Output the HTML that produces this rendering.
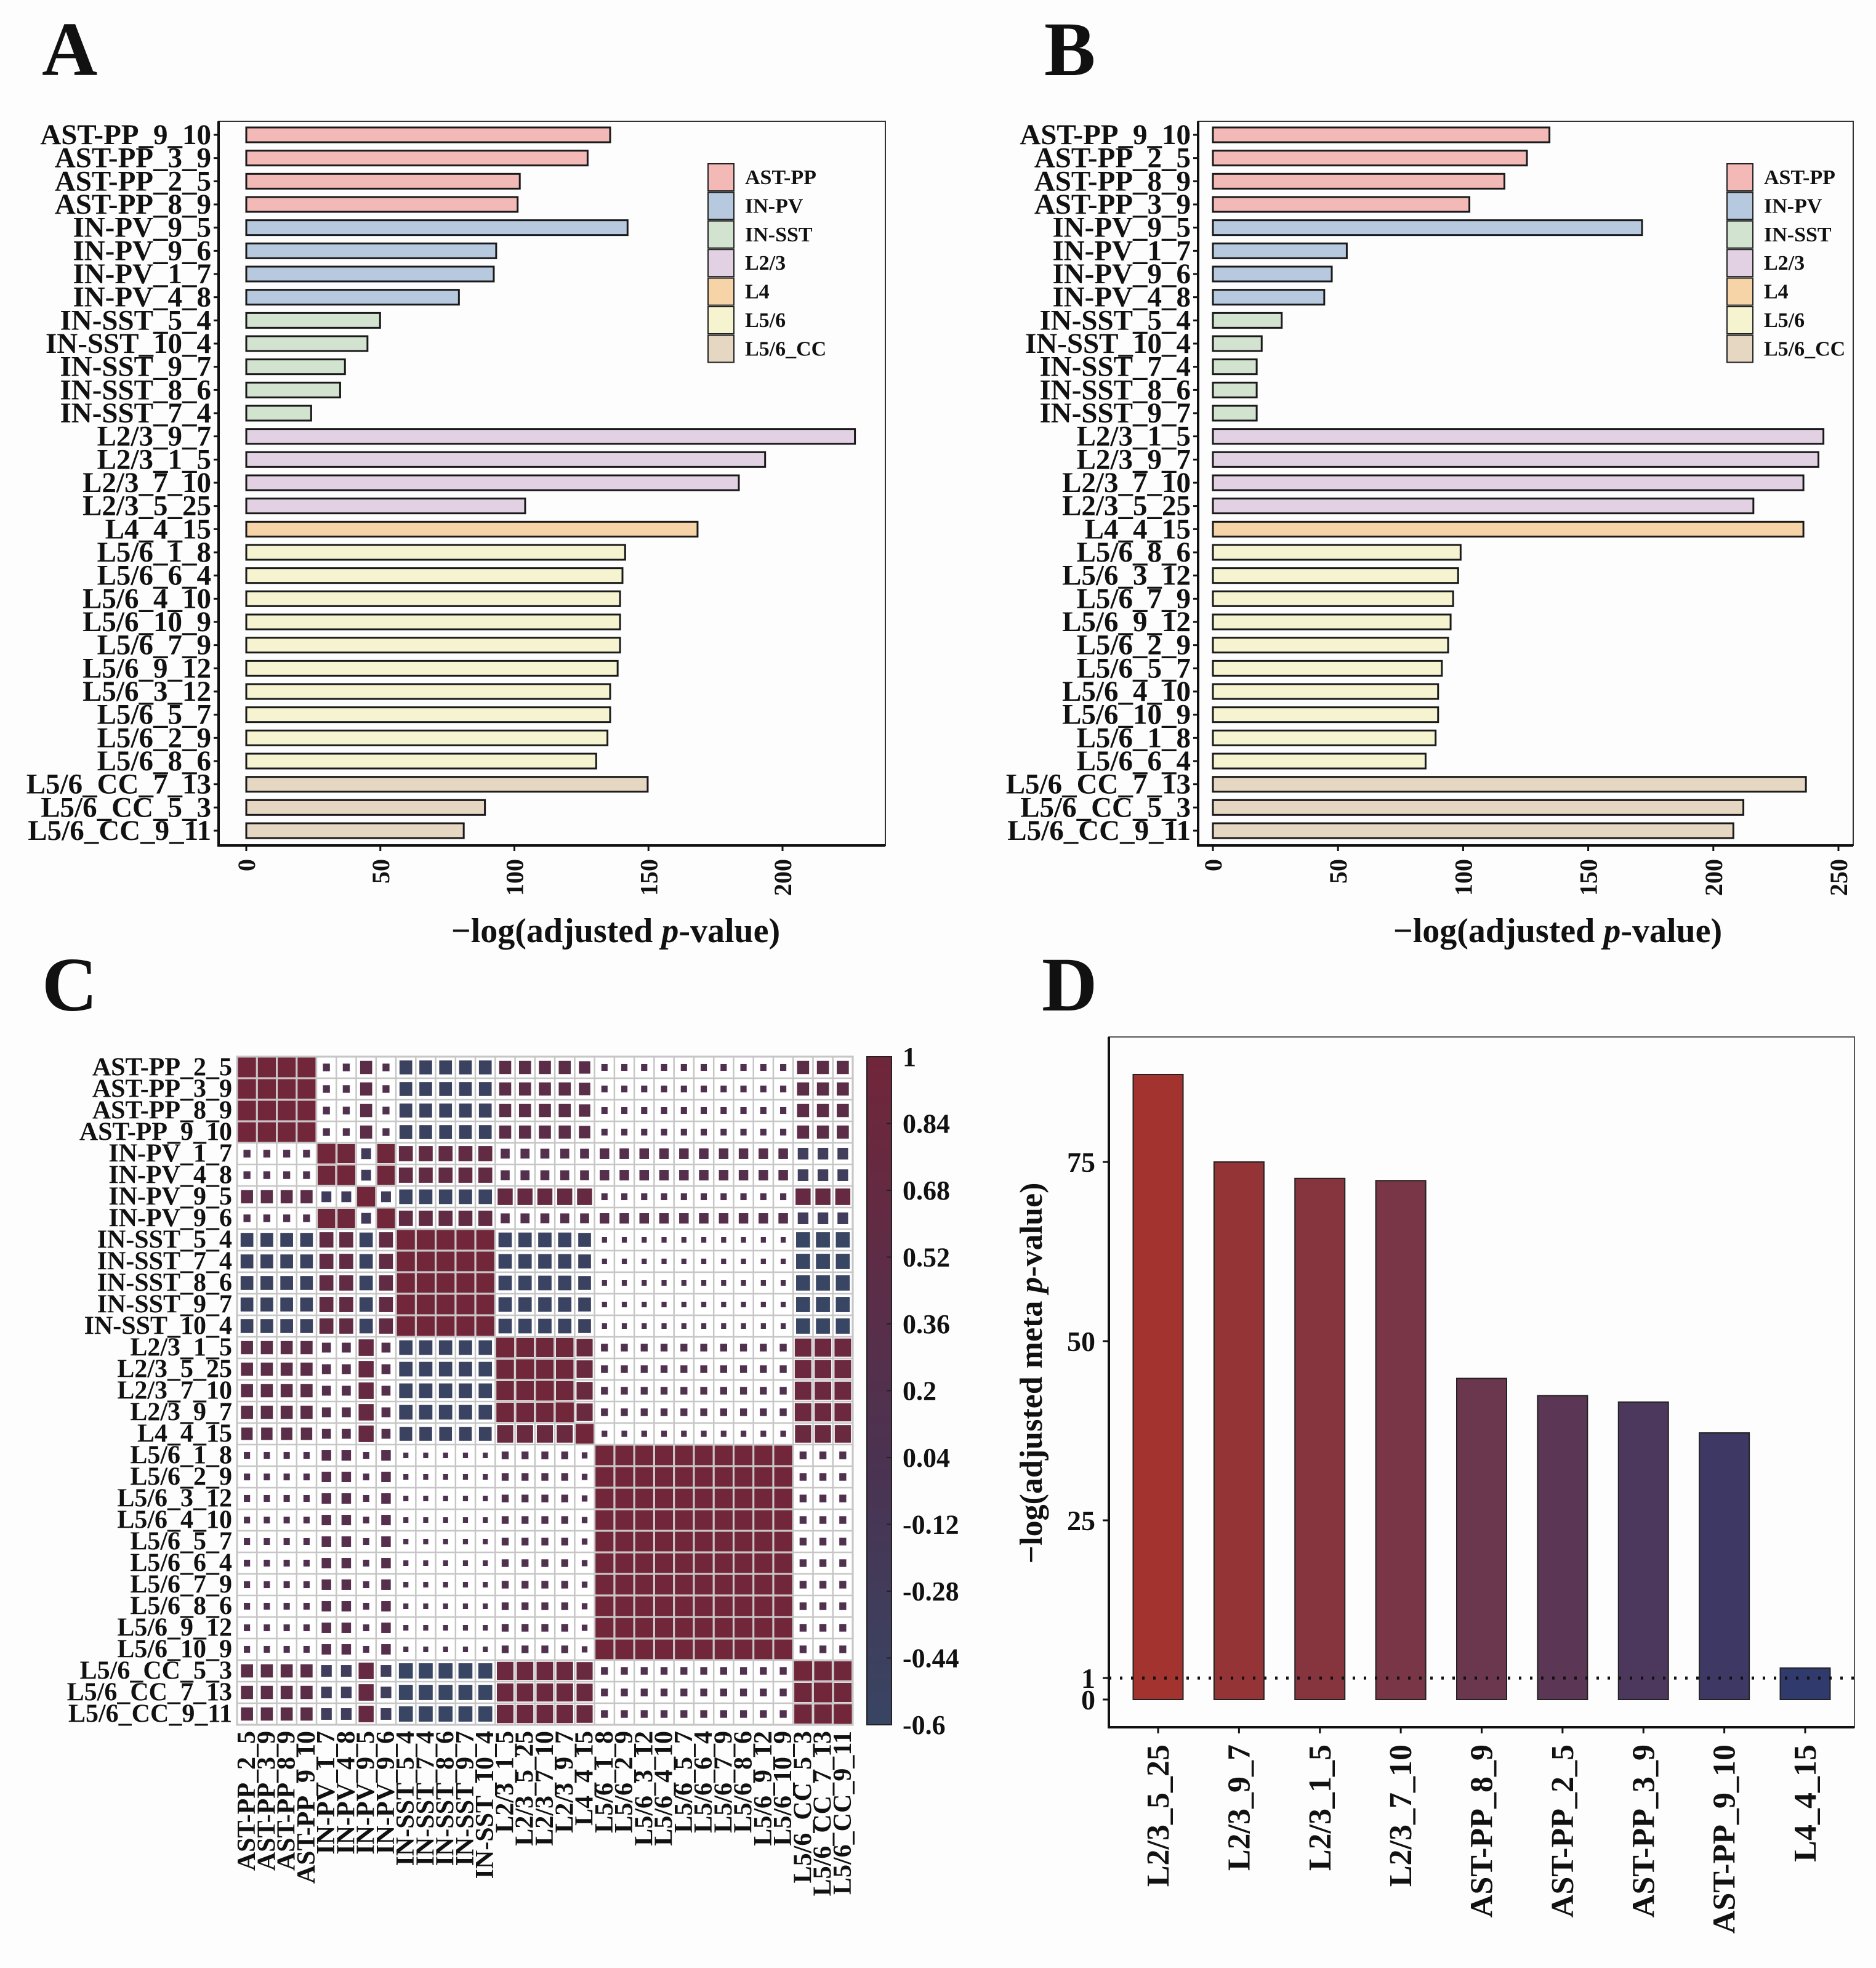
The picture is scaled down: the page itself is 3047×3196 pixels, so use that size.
<!DOCTYPE html>
<html><head><meta charset="utf-8"><style>
html,body{margin:0;padding:0;background:#fff}
svg{display:block}
text{font-family:"Liberation Serif",serif;font-weight:bold;fill:#111}
</style></head><body>
<svg id="fig" xmlns="http://www.w3.org/2000/svg" width="3047" height="3196" viewBox="0 0 3047 3196">
<rect x="0" y="0" width="3047" height="3196" fill="#fdfdfd"/>
<text x="68" y="122" font-size="125">A</text>
<text x="1696" y="122" font-size="125">B</text>
<text x="68" y="1641" font-size="125">C</text>
<text x="1692" y="1641" font-size="125">D</text>
<g id="pa"></g>
<g id="pb"></g>
<g id="pc"></g>
<g id="pd"></g>
</svg>
<script>
// ---- Panel A data ----
const aLabels = ["AST-PP_9_10","AST-PP_3_9","AST-PP_2_5","AST-PP_8_9","IN-PV_9_5","IN-PV_9_6","IN-PV_1_7","IN-PV_4_8","IN-SST_5_4","IN-SST_10_4","IN-SST_9_7","IN-SST_8_6","IN-SST_7_4","L2/3_9_7","L2/3_1_5","L2/3_7_10","L2/3_5_25","L4_4_15","L5/6_1_8","L5/6_6_4","L5/6_4_10","L5/6_10_9","L5/6_7_9","L5/6_9_12","L5/6_3_12","L5/6_5_7","L5/6_2_9","L5/6_8_6","L5/6_CC_7_13","L5/6_CC_5_3","L5/6_CC_9_11"];
const aValues = [135.7,127.3,102,101.2,142.2,93.2,92.3,79.3,49.9,45.2,36.8,35,24.2,227,193.5,183.7,104,168.3,141.3,140.3,139.4,139.4,139.4,138.5,135.7,135.7,134.7,130.5,149.7,89,81.1];
const aGroups = ["AST-PP","AST-PP","AST-PP","AST-PP","IN-PV","IN-PV","IN-PV","IN-PV","IN-SST","IN-SST","IN-SST","IN-SST","IN-SST","L2/3","L2/3","L2/3","L2/3","L4","L5/6","L5/6","L5/6","L5/6","L5/6","L5/6","L5/6","L5/6","L5/6","L5/6","L5/6_CC","L5/6_CC","L5/6_CC"];
const aTicks = [0,50,100,150,200];
// ---- Panel B data ----
const bLabels = ["AST-PP_9_10","AST-PP_2_5","AST-PP_8_9","AST-PP_3_9","IN-PV_9_5","IN-PV_1_7","IN-PV_9_6","IN-PV_4_8","IN-SST_5_4","IN-SST_10_4","IN-SST_7_4","IN-SST_8_6","IN-SST_9_7","L2/3_1_5","L2/3_9_7","L2/3_7_10","L2/3_5_25","L4_4_15","L5/6_8_6","L5/6_3_12","L5/6_7_9","L5/6_9_12","L5/6_2_9","L5/6_5_7","L5/6_4_10","L5/6_10_9","L5/6_1_8","L5/6_6_4","L5/6_CC_7_13","L5/6_CC_5_3","L5/6_CC_9_11"];
const bValues = [134.5,125.5,116.5,102.5,171.5,53.5,47.5,44.5,27.5,19.5,17.5,17.5,17.5,244,242,236,216,236,99,98,96,95,94,91.5,90,90,89,85,237,212,208];
const bGroups = aGroups;
const bTicks = [0,50,100,150,200,250];
const legendNames = ["AST-PP","IN-PV","IN-SST","L2/3","L4","L5/6","L5/6_CC"];
const legendColors = ["#f2b9b6","#b7c9de","#d2e4d0","#e1d1e3","#f7d4a7","#f6f4d0","#e6d7c3"];
// ---- Panel C data ----
const cLabels = ["AST-PP_2_5","AST-PP_3_9","AST-PP_8_9","AST-PP_9_10","IN-PV_1_7","IN-PV_4_8","IN-PV_9_5","IN-PV_9_6","IN-SST_5_4","IN-SST_7_4","IN-SST_8_6","IN-SST_9_7","IN-SST_10_4","L2/3_1_5","L2/3_5_25","L2/3_7_10","L2/3_9_7","L4_4_15","L5/6_1_8","L5/6_2_9","L5/6_3_12","L5/6_4_10","L5/6_5_7","L5/6_6_4","L5/6_7_9","L5/6_8_6","L5/6_9_12","L5/6_10_9","L5/6_CC_5_3","L5/6_CC_7_13","L5/6_CC_9_11"];
const cGroupOf = [0,0,0,0,1,1,2,1,3,3,3,3,3,4,4,4,4,5,6,6,6,6,6,6,6,6,6,6,7,7,7];
const cGroupCorr = [
 [1,0.15,0.45,-0.5,0.45,0.4,0.12,0.45],
 [0.15,0.95,-0.3,0.6,0.25,0.25,0.28,-0.35],
 [0.45,-0.3,1,-0.55,0.7,0.7,0.12,0.7],
 [-0.5,0.6,-0.55,1,-0.55,-0.5,0.08,-0.6],
 [0.45,0.25,0.7,-0.55,0.95,0.8,0.15,0.85],
 [0.4,0.25,0.7,-0.5,0.8,1,0.1,0.8],
 [0.12,0.28,0.12,0.08,0.15,0.1,1,0.15],
 [0.45,-0.35,0.7,-0.6,0.85,0.8,0.15,0.95]];
const cbarLabels = ["1","0.84","0.68","0.52","0.36","0.2","0.04","-0.12","-0.28","-0.44","-0.6"];
// ---- Panel D data ----
const dLabels = ["L2/3_5_25","L2/3_9_7","L2/3_1_5","L2/3_7_10","AST-PP_8_9","AST-PP_2_5","AST-PP_3_9","AST-PP_9_10","L4_4_15"];
const dValues = [87.2,75,72.7,72.4,44.8,42.4,41.5,37.2,4.4];
const dTickVals = [0,3,25,50,75];
const dTickLabels = ["0","1","25","50","75"];
const dThreshold = 3;

const NS="http://www.w3.org/2000/svg";
function mk(parent,tag,attrs,txt){const e=document.createElementNS(NS,tag);for(const k in attrs)e.setAttribute(k,attrs[k]);if(txt!==undefined)e.textContent=txt;parent.appendChild(e);return e;}

function hbar(gid,labels,values,groups,ticks,F,x0,xPerUnit,legX,titleX,prefix){
  const g=document.getElementById(gid);
  const fr=mk(g,'rect',{x:F.l,y:F.t,width:F.r-F.l,height:F.b-F.t,fill:'none',stroke:'#333','stroke-width':2});
  
  const ax=mk(g,'path',{d:`M${F.l} ${F.t} V${F.b} H${F.r}`,fill:'none',stroke:'#111','stroke-width':4});
  
  const y0=219,step=(1349-219)/(labels.length-1),bh=24;
  const xs=v=>x0+v*xPerUnit;
  labels.forEach((lab,i)=>{
    const cy=y0+i*step;
    const ci=legendNames.indexOf(groups[i]);
    const r=mk(g,'rect',{x:xs(0),y:cy-bh/2,width:xs(values[i])-xs(0),height:bh,fill:legendColors[ci],stroke:'#1a1a1a','stroke-width':3});
    
    const t=mk(g,'text',{x:F.l-12,y:cy+15,'font-size':47,'text-anchor':'end'},lab);
    
    mk(g,'line',{x1:F.l-8,x2:F.l,y1:cy,y2:cy,stroke:'#111','stroke-width':3});
  });
  ticks.forEach(v=>{
    const x=xs(v);
    mk(g,'line',{x1:x,x2:x,y1:F.b,y2:F.b+9,stroke:'#111','stroke-width':3});
    const t=mk(g,'text',{transform:`translate(${x+14},${F.b+22}) rotate(-90)`,'font-size':40,'text-anchor':'end'},String(v));
    
  });
  const tt=mk(g,'text',{x:titleX,y:1530,'font-size':56,'text-anchor':'middle'});
  
  mk(tt,'tspan',{},'\u2212log(adjusted ');mk(tt,'tspan',{'font-style':'italic'},'p');mk(tt,'tspan',{},'-value)');
  legendNames.forEach((n,i)=>{
    const cy=288+i*46.4;
    const r=mk(g,'rect',{x:legX,y:cy-22,width:42,height:44,fill:legendColors[i],stroke:'#222','stroke-width':2});
    
    const t=mk(g,'text',{x:legX+60,y:cy+11,'font-size':34},n);
    
  });
}
hbar('pa',aLabels,aValues,aGroups,aTicks,{l:355,t:197,r:1438,b:1373},400,4.355,1150,1000,'a');
hbar('pb',bLabels,bValues,bGroups,bTicks,{l:1946,t:197,r:3010,b:1373},1970,4.064,2805,2530,'b');

// ---- Panel C ----
(function(){
  const g=document.getElementById('pc');
  const L=385,T=1716,n=cLabels.length,cw=(1385-385)/n,ch=(2801-1716)/n;
  function lerp(a,b,t){return Math.round(a+(b-a)*t);}
  function col(v){
    const lo=[56,69,99],mid=[74,51,82],hi=[113,38,58];
    let c;if(v<0){const t=Math.min(1,-v/0.6);c=mid.map((m,i)=>lerp(m,lo[i],t));}else{c=mid.map((m,i)=>lerp(m,hi[i],v));}
    return `rgb(${c[0]},${c[1]},${c[2]})`;
  }
  const bg=mk(g,'rect',{x:L,y:T,width:cw*n,height:ch*n,fill:'#fff',stroke:'#bbb','stroke-width':3});
  
  for(let i=0;i<n;i++){
    for(let j=0;j<n;j++){
      const v=(i===j)?1:cGroupCorr[cGroupOf[i]][cGroupOf[j]];
      const s=Math.sqrt(Math.abs(v));
      const w=(cw-3)*s,h=(ch-3)*s;
      const cx=L+(j+0.5)*cw,cy=T+(i+0.5)*ch;
      const r=mk(g,'rect',{x:cx-w/2,y:cy-h/2,width:w,height:h,fill:col(v)});
      
    }
  }
  for(let k=0;k<=n;k++){
    mk(g,'line',{x1:L+k*cw,x2:L+k*cw,y1:T,y2:T+n*ch,stroke:'#c6c6c6','stroke-width':2.5});
    mk(g,'line',{x1:L,x2:L+n*cw,y1:T+k*ch,y2:T+k*ch,stroke:'#c6c6c6','stroke-width':2.5});
  }
  cLabels.forEach((lab,i)=>{
    const t=mk(g,'text',{x:L-8,y:T+(i+0.5)*ch+13,'font-size':42,'text-anchor':'end'},lab);
    
    const t2=mk(g,'text',{transform:`translate(${L+(i+0.5)*cw+13},${T+n*ch+10}) rotate(-90)`,'font-size':42,'text-anchor':'end'},lab);
    
  });
  const defs=mk(g,'defs',{});
  const lg=mk(defs,'linearGradient',{id:'cbg',x1:0,y1:0,x2:0,y2:1});
  mk(lg,'stop',{offset:'0','stop-color':col(1)});
  mk(lg,'stop',{offset:String(1/1.6),'stop-color':col(0)});
  mk(lg,'stop',{offset:'1','stop-color':col(-0.6)});
  const cb=mk(g,'rect',{x:1408,y:T,width:40,height:n*ch,fill:'url(#cbg)',stroke:'#222','stroke-width':2});
  
  cbarLabels.forEach((lab,i)=>{
    const y=T+i*(n*ch)/(cbarLabels.length-1);
    mk(g,'line',{x1:1440,x2:1448,y1:y,y2:y,stroke:'#222','stroke-width':2});
    const t=mk(g,'text',{x:1466,y:y+15,'font-size':44},lab);
    
  });
})();

// ---- Panel D ----
(function(){
  const g=document.getElementById('pd');
  const F={l:1801,t:1684,r:3012,b:2805};
  const y0=2760,pu=11.64;const ys=v=>y0-v*pu;
  const pad=80,step=(F.r-F.l-2*pad)/(dLabels.length-1),bw=81;
  const fr=mk(g,'rect',{x:F.l,y:F.t,width:F.r-F.l,height:F.b-F.t,fill:'none',stroke:'#555','stroke-width':2});
  
  const ax=mk(g,'path',{d:`M${F.l} ${F.t} V${F.b} H${F.r}`,fill:'none',stroke:'#111','stroke-width':4});
  
  const sorted=[...dValues].sort((a,b)=>a-b);
  function col(v){const t=sorted.indexOf(v)/(sorted.length-1);const lo=[48,58,108],hi=[163,51,47];
    return `rgb(${lo.map((c,i)=>Math.round(c+(hi[i]-c)*t)).join(',')})`;}
  dLabels.forEach((lab,i)=>{
    const cx=F.l+pad+i*step;
    const r=mk(g,'rect',{x:cx-bw/2,y:ys(dValues[i]),width:bw,height:ys(0)-ys(dValues[i]),fill:col(dValues[i]),stroke:'#222','stroke-width':2});
    
    mk(g,'line',{x1:cx,x2:cx,y1:F.b,y2:F.b+10,stroke:'#111','stroke-width':3});
    const t=mk(g,'text',{transform:`translate(${cx+17},${F.b+28}) rotate(-90)`,'font-size':52,'text-anchor':'end'},lab);
    
  });
  const th=mk(g,'line',{x1:F.l,x2:F.r,y1:ys(dThreshold),y2:ys(dThreshold),stroke:'#111','stroke-width':5,'stroke-dasharray':'4 14'});
  
  dTickVals.forEach((v,i)=>{
    const y=ys(v);
    mk(g,'line',{x1:F.l-10,x2:F.l,y1:y,y2:y,stroke:'#111','stroke-width':3});
    const t=mk(g,'text',{x:F.l-22,y:y+16,'font-size':46,'text-anchor':'end'},dTickLabels[i]);
    
  });
  const tt=mk(g,'text',{transform:'translate(1692,2230) rotate(-90)','font-size':52,'text-anchor':'middle'});
  
  mk(tt,'tspan',{},'\u2212log(adjusted meta ');mk(tt,'tspan',{'font-style':'italic'},'p');mk(tt,'tspan',{},'-value)');
})();
</script>
</body></html>
